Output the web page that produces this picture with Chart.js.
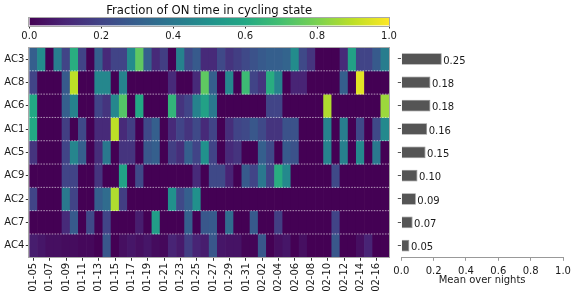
<!DOCTYPE html>
<html><head><meta charset="utf-8">
<script src="https://cdn.jsdelivr.net/npm/chart.js@4/dist/chart.umd.min.js"></script>
<style>
html,body{margin:0;padding:0;background:#fff;width:576px;height:296px;overflow:hidden}
.c{position:absolute}
canvas{display:block}
</style></head><body>
<div class="c" style="left:0;top:0"><canvas id="cb" width="420" height="42"></canvas></div>
<div class="c" style="left:0;top:40px"><canvas id="hm" width="400" height="256"></canvas></div>
<div class="c" style="left:380px;top:40px"><canvas id="bar" width="196" height="256"></canvas></div>
<script>
// ---- data ----
const dates = ["01-05","01-06","01-07","01-08","01-09","01-10","01-11","01-12","01-13","01-14","01-15","01-16","01-17","01-18","01-19","01-20","01-21","01-22","01-23","01-24","01-25","01-26","01-27","01-28","01-29","01-30","01-31","02-01","02-02","02-03","02-04","02-05","02-06","02-07","02-08","02-09","02-10","02-11","02-12","02-13","02-14","02-15","02-16","02-17"];
const rowLabels = ["AC3","AC8","AC6","AC1","AC5","AC9","AC2","AC7","AC4"];
const ac3 = [0.30,0.48,0,0.42,0.20,0.62,0.20,0,0.30,0.12,0.20,0.20,0.48,0.75,0.30,0.12,0.18,0,0.44,0.22,0.28,0.12,0.12,0.22,0.15,0.18,0.22,0.25,0.28,0.30,0.30,0.32,0.48,0.22,0.15,0,0,0,0.12,0.57,0.20,0.20,0.28,0.42];
const ac8 = [0.20,0,0,0,0.28,0.90,0,0,0.46,0.46,0,0.44,0,0,0,0,0,0.12,0,0,0.12,0.75,0.30,0,0.46,0,0.68,0.20,0.15,0.62,0.44,0,0.10,0.10,0,0,0,0,0.30,0,0.96,0,0,0];
const ac6 = [0.60,0,0,0,0.30,0.44,0,0,0.20,0.15,0.46,0.73,0,0.60,0,0,0,0.65,0.15,0.20,0.44,0.57,0.40,0,0,0,0,0,0,0.20,0.20,0,0,0,0,0,0.88,0,0,0,0,0,0,0.85];
const ac1 = [0.60,0,0,0,0.18,0,0.22,0,0.12,0.12,0.90,0.12,0.18,0,0.22,0.30,0,0.12,0.20,0.15,0.22,0.12,0.20,0,0.13,0.20,0.22,0.27,0.22,0.15,0.15,0.25,0.25,0,0,0,0.44,0,0.42,0,0.22,0,0.22,0.47];
const ac5 = [0.15,0,0,0,0.20,0.45,0.30,0,0.13,0.40,0,0.15,0.15,0,0.27,0.30,0,0.18,0.13,0.30,0.20,0.50,0.20,0,0.12,0.15,0,0,0.30,0.22,0,0.28,0.25,0,0,0,0.44,0,0.43,0,0.47,0,0.40,0];
const ac9 = [0,0,0,0,0.20,0.20,0,0,0.15,0,0,0.58,0,0.22,0,0,0,0,0,0,0.12,0,0.22,0.22,0.10,0,0.28,0.20,0.40,0.20,0.62,0.47,0,0,0,0,0,0.22,0,0,0,0,0,0];
const ac2 = [0.20,0,0,0,0.40,0.20,0,0,0.30,0.35,0.88,0.18,0,0,0,0,0,0.50,0.22,0.30,0.50,0,0,0,0,0,0,0,0,0,0,0,0,0,0,0,0,0,0,0,0,0,0,0];
const ac7 = [0,0,0,0,0.12,0.28,0,0.22,0,0.20,0,0,0,0.08,0,0.55,0,0,0,0.30,0,0.27,0.28,0,0.35,0,0,0.28,0,0,0.18,0,0,0,0,0,0,0.20,0,0,0,0,0,0];
const ac4 = [0.08,0.06,0.04,0.04,0.03,0.03,0.02,0.02,0,0.27,0,0.04,0.06,0.04,0.06,0.03,0.02,0.10,0.07,0.18,0.10,0.08,0.27,0.06,0.05,0.05,0.01,0.01,0.27,0,0.04,0.06,0,0.04,0,0,0,0.27,0,0,0.04,0.10,0,0];
const means = [0.25,0.18,0.18,0.16,0.15,0.10,0.09,0.07,0.05];
const colorbarTicks = [0,0.2,0.4,0.6,0.8,1.0];
const rows = [ac3,ac8,ac6,ac1,ac5,ac9,ac2,ac7,ac4];

// ---- viridis ----
const VIR = ["#440154","#482475","#414487","#355f8d","#2a788e","#21918c","#22a884","#44bf70","#7ad151","#bddf26","#fde725"];
function hex2rgb(h){return [parseInt(h.slice(1,3),16),parseInt(h.slice(3,5),16),parseInt(h.slice(5,7),16)];}
const VIRRGB = VIR.map(hex2rgb);
function viridis(v){
  v = Math.max(0, Math.min(1, v));
  const p = v*10, i = Math.min(9, Math.floor(p)), t = p - i;
  const a = VIRRGB[i], b = VIRRGB[i+1];
  return 'rgb(' + [0,1,2].map(k => Math.round(a[k] + (b[k]-a[k])*t)).join(',') + ')';
}

Chart.defaults.font.family = "'DejaVu Sans', sans-serif";
Chart.defaults.font.size = 10;
Chart.defaults.color = '#1a1a1a';
Chart.defaults.animation = false;

const frame = (col) => ({
  id: 'frame',
  afterDraw(chart){
    const a = chart.chartArea, c = chart.ctx;
    c.save(); c.strokeStyle = col; c.lineWidth = 1;
    c.strokeRect(Math.round(a.left)-0.5, Math.round(a.top)-0.5, Math.round(a.right)-Math.round(a.left)+1, Math.round(a.bottom)-Math.round(a.top)+1);
    c.restore();
  }
});

// ---- colorbar ----
new Chart(document.getElementById('cb'), {
  type: 'bar',
  data: { labels: [''], datasets: [{
    data: [[0,1]],
    backgroundColor: (ctx) => {
      const ch = ctx.chart;
      if (!ch.chartArea) return VIR[0];
      const xs = ch.scales.x;
      const g = ch.ctx.createLinearGradient(xs.getPixelForValue(0),0,xs.getPixelForValue(1),0);
      for (let i=0;i<=50;i++){ g.addColorStop(i/50, viridis(i/50)); }
      return g;
    },
    borderWidth: 0, barPercentage: 1, categoryPercentage: 1
  }]},
  options: {
    responsive: false, devicePixelRatio: 1, indexAxis: 'y',
    layout: { padding: { left: 29.3, right: 31, top: 1.5, bottom: 0 } },
    plugins: {
      legend: { display: false }, tooltip: { enabled: false },
      title: { display: true, text: 'Fraction of ON time in cycling state', font: { size: 11.7, weight: 'normal' }, color: '#111', padding: { top: 2, bottom: 0.1 } }
    },
    scales: {
      x: { type: 'linear', min: 0, max: 1,
        afterBuildTicks: (s) => { s.ticks = colorbarTicks.map(v => ({value: v})); },
        ticks: { callback: (v) => Number(v).toFixed(1), padding: 1.5, maxRotation: 0 },
        grid: { drawOnChartArea: false, tickLength: 3, color: '#333' },
        border: { display: false },
        afterFit: (s) => { s.height = 16.5; } },
      y: { display: false }
    }
  },
  plugins: [frame('#a8a8a8')]
});

// ---- heatmap ----
const separators = {
  id: 'separators',
  afterDatasetsDraw(chart){
    const a = chart.chartArea, c = chart.ctx, ys = chart.scales.y;
    c.save(); c.strokeStyle = 'rgba(255,255,255,0.75)'; c.lineWidth = 0.8; c.setLineDash([1.6,1.2]);
    for (let r = 0; r < rowLabels.length - 1; r++){
      const y = ys.getPixelForValue(r + 0.5);
      c.beginPath(); c.moveTo(a.left, y); c.lineTo(a.right, y); c.stroke();
    }
    c.restore();
  }
};
new Chart(document.getElementById('hm'), {
  type: 'bar',
  data: { labels: dates, datasets: rows.map((vals, r) => ({
    label: rowLabels[r],
    data: vals.map(() => [r - 0.5, r + 0.5]),
    backgroundColor: vals.map(viridis),
    borderWidth: 0, barPercentage: 1, categoryPercentage: 1, grouped: false
  }))},
  options: {
    responsive: false, devicePixelRatio: 1,
    layout: { padding: { left: 0, right: 11, top: 7.3, bottom: 0 } },
    plugins: { legend: { display: false }, tooltip: { enabled: false } },
    scales: {
      x: { type: 'category', offset: true,
        grid: { drawOnChartArea: false, offset: false, tickLength: 3.5, color: (c) => (c.index % 2 === 0 ? '#333' : 'rgba(0,0,0,0)') },
        border: { display: false },
        ticks: { autoSkip: false, minRotation: 90, maxRotation: 90, padding: 2, callback: (v, i) => (i % 2 === 0 ? dates[i] : '') },
        afterFit: (s) => { s.height = 38.7; } },
      y: { type: 'linear', min: -0.5, max: 8.5, reverse: true,
        afterBuildTicks: (s) => { s.ticks = rowLabels.map((_, i) => ({ value: i })); },
        ticks: { callback: (v) => rowLabels[v], padding: 1.5 },
        grid: { drawOnChartArea: false, tickLength: 3.5, color: '#333' },
        border: { display: false },
        afterFit: (s) => { s.width = 29.3; } }
    }
  },
  plugins: [separators, frame('#a8a8a8')]
});

// ---- mean bars ----
const valueLabels = {
  id: 'valueLabels',
  afterDatasetsDraw(chart){
    const c = chart.ctx, meta = chart.getDatasetMeta(0);
    c.save(); c.fillStyle = '#1a1a1a'; c.font = "10px 'DejaVu Sans', sans-serif";
    c.textAlign = 'left'; c.textBaseline = 'middle';
    meta.data.forEach((el, i) => { c.fillText(means[i].toFixed(2), el.x + 1.5, el.y + 2); });
    c.restore();
  }
};
new Chart(document.getElementById('bar'), {
  type: 'bar',
  data: { labels: rowLabels, datasets: [{ data: means, backgroundColor: '#555555', borderColor: '#8c8c8c', borderWidth: 0.8, barPercentage: 0.5, categoryPercentage: 1 }] },
  options: {
    responsive: false, devicePixelRatio: 1, indexAxis: 'y',
    layout: { padding: { left: 0, right: 13, top: 7.3, bottom: 9.5 } },
    plugins: { legend: { display: false }, tooltip: { enabled: false } },
    scales: {
      x: { type: 'linear', min: 0, max: 1,
        afterBuildTicks: (s) => { s.ticks = colorbarTicks.map(v => ({value: v})); },
        ticks: { callback: (v) => Number(v).toFixed(1), padding: 4.5, maxRotation: 0 },
        grid: { drawOnChartArea: false, tickLength: 3.5, color: '#999' },
        border: { display: true, color: '#999' },
        title: { display: true, text: 'Mean over nights', font: { size: 10 }, padding: { top: 0, bottom: 0 } },
        afterFit: (s) => { s.height = 29.2; } },
      y: { ticks: { display: false },
        grid: { drawOnChartArea: false, offset: false, tickLength: 3.5, color: '#555' },
        border: { display: false },
        afterFit: (s) => { s.width = 21.3; } }
    }
  },
  plugins: [valueLabels]
});
</script>
</body></html>
